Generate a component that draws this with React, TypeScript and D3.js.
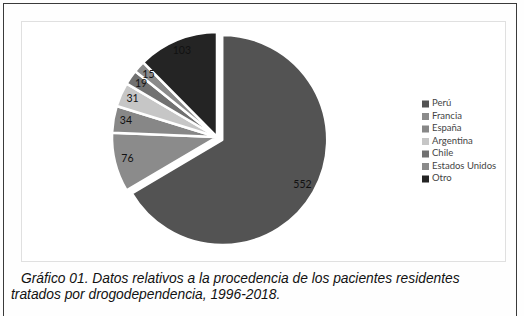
import React from "react";
import { pie, arc, scaleOrdinal } from "d3";

// Pacientes residentes por procedencia, 1996-2018
const countries = ["Perú", "Francia", "España", "Argentina", "Chile", "Estados Unidos", "Otro"];
const patients = [552, 76, 34, 31, 19, 15, 103];
const shades = ["#535353", "#8b8b8b", "#878787", "#c6c6c6", "#717171", "#8a8a8a", "#242424"];
const captionLines = [
    "Gráfico 01. Datos relativos a la procedencia de los pacientes residentes",
    "tratados por drogodependencia, 1996-2018.",
];

const W = 524;
const H = 316;

export default function App() {
    const cx = 217;
    const cy = 137;
    const r = 105;
    const explode = 6;

    const color = scaleOrdinal<string, string>().domain(countries).range(shades);

    const slices = pie<number>().sort(null).value(d => d)(patients);
    const sliceArc = arc<any>().innerRadius(0).outerRadius(r);
    const labelArc = arc<any>().innerRadius(r * 0.88).outerRadius(r * 0.88);

    // only Perú is pulled out of the pie
    const offset = (i: number, d: any) => {
        if (i !== 0) return [0, 0];
        const a = (d.startAngle + d.endAngle) / 2;
        return [Math.sin(a) * explode, -Math.cos(a) * explode];
    };

    return (
        <div style={{ position: "absolute", left: 0, top: 0 }}>
            <svg width={W} height={H} style={{ display: "block", background: "#fefefe" }}>
                {/* outer figure frame */}
                <rect x={3.5} y={3.5} width={513} height={H + 10} fill="none" stroke="#3a3a3a" strokeWidth={1} />
                {/* chart area */}
                <rect x={21.5} y={21.5} width={484} height={240} fill="#ffffff" stroke="#e0e0e0" strokeWidth={1} />

                <g transform={`translate(${cx}, ${cy})`}>
                    {slices.map((d, i) => {
                        const [ox, oy] = offset(i, d);
                        return (
                            <path
                                key={i}
                                d={sliceArc(d) as string}
                                transform={`translate(${ox}, ${oy})`}
                                fill={color(countries[i])}
                                stroke="#ffffff"
                                strokeWidth={2.5}
                                strokeLinejoin="round"
                            />
                        );
                    })}
                    {slices.map((d, i) => {
                        const [ox, oy] = offset(i, d);
                        const [lx, ly] = labelArc.centroid(d);
                        return (
                            <text
                                key={"l" + i}
                                x={lx + ox}
                                y={ly + oy}
                                textAnchor="middle"
                                dominantBaseline="middle"
                                fontFamily="Lato, 'Open Sans', sans-serif"
                                fontSize={10.5}
                                fill="#111111"
                            >
                                {patients[i]}
                            </text>
                        );
                    })}
                </g>

                {/* legend */}
                <g transform="translate(422, 104)">
                    {countries.map((c, i) => (
                        <g key={c} transform={`translate(0, ${i * 12.5})`}>
                            <rect x={0} y={-3.5} width={7} height={7} fill={color(c)} />
                            <text
                                x={10}
                                y={0}
                                dominantBaseline="middle"
                                fontFamily="Lato, 'Open Sans', sans-serif"
                                fontSize={9.5}
                                fill="#444444"
                            >
                                {c}
                            </text>
                        </g>
                    ))}
                </g>

                {/* caption */}
                {captionLines.map((line, i) => (
                    <text
                        key={"c" + i}
                        x={i === 0 ? 21 : 11}
                        y={283 + i * 16}
                        fontFamily="'Liberation Sans', Arial, sans-serif"
                        fontStyle="italic"
                        fontSize={13.8}
                        fill="#111111"
                    >
                        {line}
                    </text>
                ))}
            </svg>
        </div>
    );
}
